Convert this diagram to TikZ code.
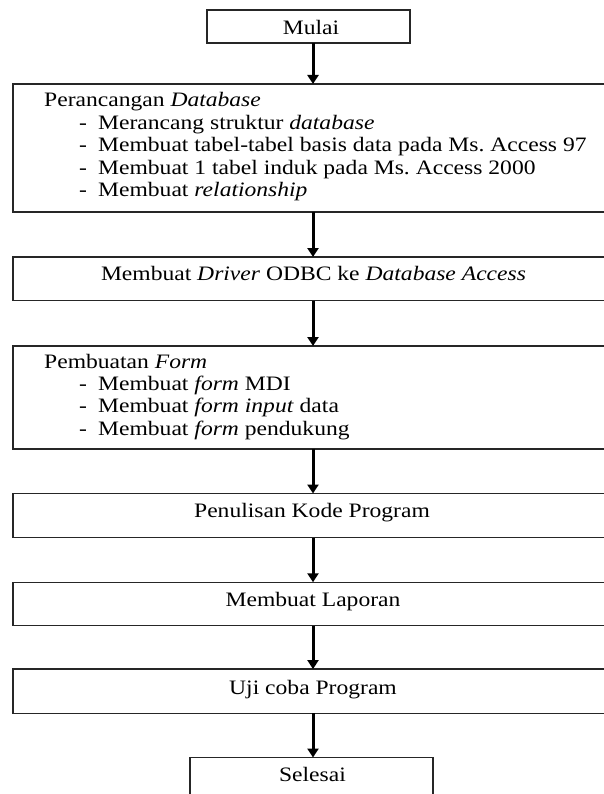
\documentclass[tikz,border=0pt]{standalone}
\usepackage{fontspec}
\setmainfont{Liberation Serif}[FakeStretch=1.15]
\usetikzlibrary{arrows.meta}
\frenchspacing
\begin{document}
\begin{tikzpicture}[x=1pt,y=-1pt,
  box/.style={draw=black!85, line width=1.3pt, rectangle, inner sep=0pt, outer sep=0pt},
  txt/.style={inner sep=0pt, font=\fontsize{20.5}{22.5}\selectfont},
  flow/.style={line width=3pt, -{Triangle[width=11pt,length=9pt]}}]
\useasboundingbox (0,0) rectangle (603,794);
\fill[white] (0,0) rectangle (603,794);
\coordinate (ax) at (313,0);
% boxes
\node[box, minimum width=203pt, minimum height=33pt] (mulai) at (308.5,26.5) {};
\node[box, minimum width=607pt, minimum height=128pt] (b2) at (316.5,148) {};
\node[box, minimum width=607pt, minimum height=43.5pt] (b3) at (316.5,278.75) {};
\node[box, minimum width=607pt, minimum height=103pt] (b4) at (316.5,397.5) {};
\node[box, minimum width=607pt, minimum height=44pt] (b5) at (316.5,515.5) {};
\node[box, minimum width=607pt, minimum height=43.5pt] (b6) at (316.5,604) {};
\node[box, minimum width=607pt, minimum height=44.3pt] (b7) at (316.5,691.2) {};
\node[box, minimum width=243pt, minimum height=57pt] (selesai) at (311.5,786) {};
% texts
\node[txt, anchor=base] (tmulai) at (311,34.3) {Mulai};
\node[txt, anchor=base west] (t21) at (44,107) {Perancangan \textit{Database}};
\node[txt, anchor=base west] (t22) at (79,129.5) {\makebox[19pt][l]{-}Merancang struktur \textit{database}};
\node[txt, anchor=base west] (t23) at (79,152) {\makebox[19pt][l]{-}Membuat tabel-tabel basis data pada Ms. Access 97};
\node[txt, anchor=base west] (t24) at (79,174.5) {\makebox[19pt][l]{-}Membuat 1 tabel induk pada Ms. Access 2000};
\node[txt, anchor=base west] (t25) at (79,197) {\makebox[19pt][l]{-}Membuat \textit{relationship}};
\node[txt, anchor=base] (t3) at (313.5,280) {Membuat \textit{Driver} ODBC ke \textit{Database Access}};
\node[txt, anchor=base west] (t41) at (44,368) {Pembuatan \textit{Form}};
\node[txt, anchor=base west] (t42) at (79,390.5) {\makebox[19pt][l]{-}Membuat \textit{form} MDI};
\node[txt, anchor=base west] (t43) at (79,412.5) {\makebox[19pt][l]{-}Membuat \textit{form input} data};
\node[txt, anchor=base west] (t44) at (79,435) {\makebox[19pt][l]{-}Membuat \textit{form} pendukung};
\node[txt, anchor=base] (t5) at (312,517.3) {Penulisan Kode Program};
\node[txt, anchor=base] (t6) at (313,606.7) {Membuat Laporan};
\node[txt, anchor=base] (t7) at (313,694) {Uji coba Program};
\node[txt, anchor=base] (tsel) at (312.5,781.7) {Selesai};
% arrows
\draw[flow] (mulai.south -| ax) -- (b2.north -| ax);
\draw[flow] (b2.south -| ax) -- (b3.north -| ax);
\draw[flow] (b3.south -| ax) -- (b4.north -| ax);
\draw[flow] (b4.south -| ax) -- (b5.north -| ax);
\draw[flow] (b5.south -| ax) -- (b6.north -| ax);
\draw[flow] (b6.south -| ax) -- (b7.north -| ax);
\draw[flow] (b7.south -| ax) -- (selesai.north -| ax);
\end{tikzpicture}
\end{document}
